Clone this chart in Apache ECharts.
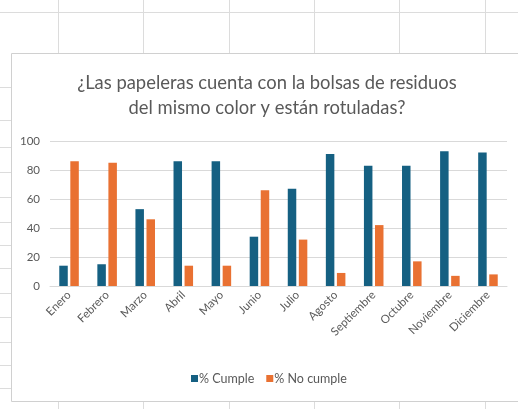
<!DOCTYPE html>
<html>
<head>
<meta charset="utf-8">
<script src="https://cdn.jsdelivr.net/npm/echarts@6/dist/echarts.min.js"></script>
<style>
  html, body { margin: 0; padding: 0; background: #ffffff; }
  #chart { width: 518px; height: 409px; }
</style>
</head>
<body>
<div id="chart"></div>
<script>
// Monthly compliance: bins with matching-colour bags and labels
const months = ['Enero', 'Febrero', 'Marzo', 'Abril', 'Mayo', 'Junio', 'Julio',
  'Agosto', 'Septiembre', 'Octubre', 'Noviembre', 'Diciembre'];
const cumple = [14, 15, 53, 86, 86, 34, 67, 91, 83, 83, 93, 92];
const noCumple = [86, 85, 46, 14, 14, 66, 32, 9, 42, 17, 7, 8];
const yTicks = [0, 20, 40, 60, 80, 100];

const BLUE = '#156082';
const ORANGE = '#E97132';
const TEXT = '#595959';
const FONT = 'Lato, "Noto Sans", sans-serif';

// Worksheet cell lines around the chart frame
const sheetLines = [];
const colXs = [58, 143, 229, 314, 399, 485];
colXs.forEach(x => {
  sheetLines.push({ type: 'line', shape: { x1: x + 0.5, y1: 0, x2: x + 0.5, y2: 53 },
    style: { stroke: '#dcdcdc', lineWidth: 1 } });
  sheetLines.push({ type: 'line', shape: { x1: x + 0.5, y1: 402, x2: x + 0.5, y2: 409 },
    style: { stroke: '#dcdcdc', lineWidth: 1 } });
});
sheetLines.push({ type: 'line', shape: { x1: 0, y1: 12.5, x2: 518, y2: 12.5 },
  style: { stroke: '#dcdcdc', lineWidth: 1 } });
[87, 120, 147, 172, 197, 222, 245, 268, 293, 317, 342, 365, 388].forEach(y => {
  sheetLines.push({ type: 'line', shape: { x1: 0, y1: y + 0.5, x2: 11, y2: y + 0.5 },
    style: { stroke: '#dcdcdc', lineWidth: 1 } });
});
// Chart frame
sheetLines.push({ type: 'rect', shape: { x: 11.5, y: 53.5, width: 520, height: 348 },
  style: { fill: 'none', stroke: '#d0d0d0', lineWidth: 1 } });

const chart = echarts.init(document.getElementById('chart'), null, { renderer: 'canvas' });
chart.setOption({
  animation: false,
  backgroundColor: '#ffffff',
  graphic: { elements: sheetLines, silent: true },
  title: {
    text: '¿Las papeleras cuenta con la bolsas de residuos\ndel mismo color y están rotuladas?',
    left: 262,
    textAlign: 'center',
    top: 66,
    textStyle: { color: TEXT, fontFamily: FONT, fontSize: 18.4, fontWeight: 'normal', lineHeight: 25 }
  },
  legend: {
    data: ['% Cumple', '% No cumple'],
    top: 372,
    left: 191,
    padding: 0,
    itemWidth: 7,
    itemHeight: 7,
    itemGap: 12,
    icon: 'rect',
    textStyle: { color: TEXT, fontFamily: FONT, fontSize: 12.5, padding: [0, 0, 0, -4] }
  },
  grid: { left: 50, right: 11, top: 141, bottom: 123 },
  xAxis: {
    type: 'category',
    data: months,
    axisLine: { lineStyle: { color: '#d9d9d9' } },
    axisTick: { show: false },
    axisLabel: { rotate: 45, color: TEXT, fontFamily: FONT, fontSize: 11.5, margin: 7, interval: 0 }
  },
  yAxis: {
    type: 'value',
    min: yTicks[0],
    max: yTicks[yTicks.length - 1],
    interval: yTicks[1] - yTicks[0],
    axisLine: { show: false },
    axisTick: { show: false },
    axisLabel: { color: TEXT, fontFamily: FONT, fontSize: 11.5, margin: 10 },
    splitLine: { lineStyle: { color: '#d9d9d9' } }
  },
  series: [
    { name: '% Cumple', type: 'bar', data: cumple, barWidth: 8.5, barGap: '30%',
      itemStyle: { color: BLUE } },
    { name: '% No cumple', type: 'bar', data: noCumple, barWidth: 8.5, barGap: '30%',
      itemStyle: { color: ORANGE } }
  ]
});
</script>
</body>
</html>
